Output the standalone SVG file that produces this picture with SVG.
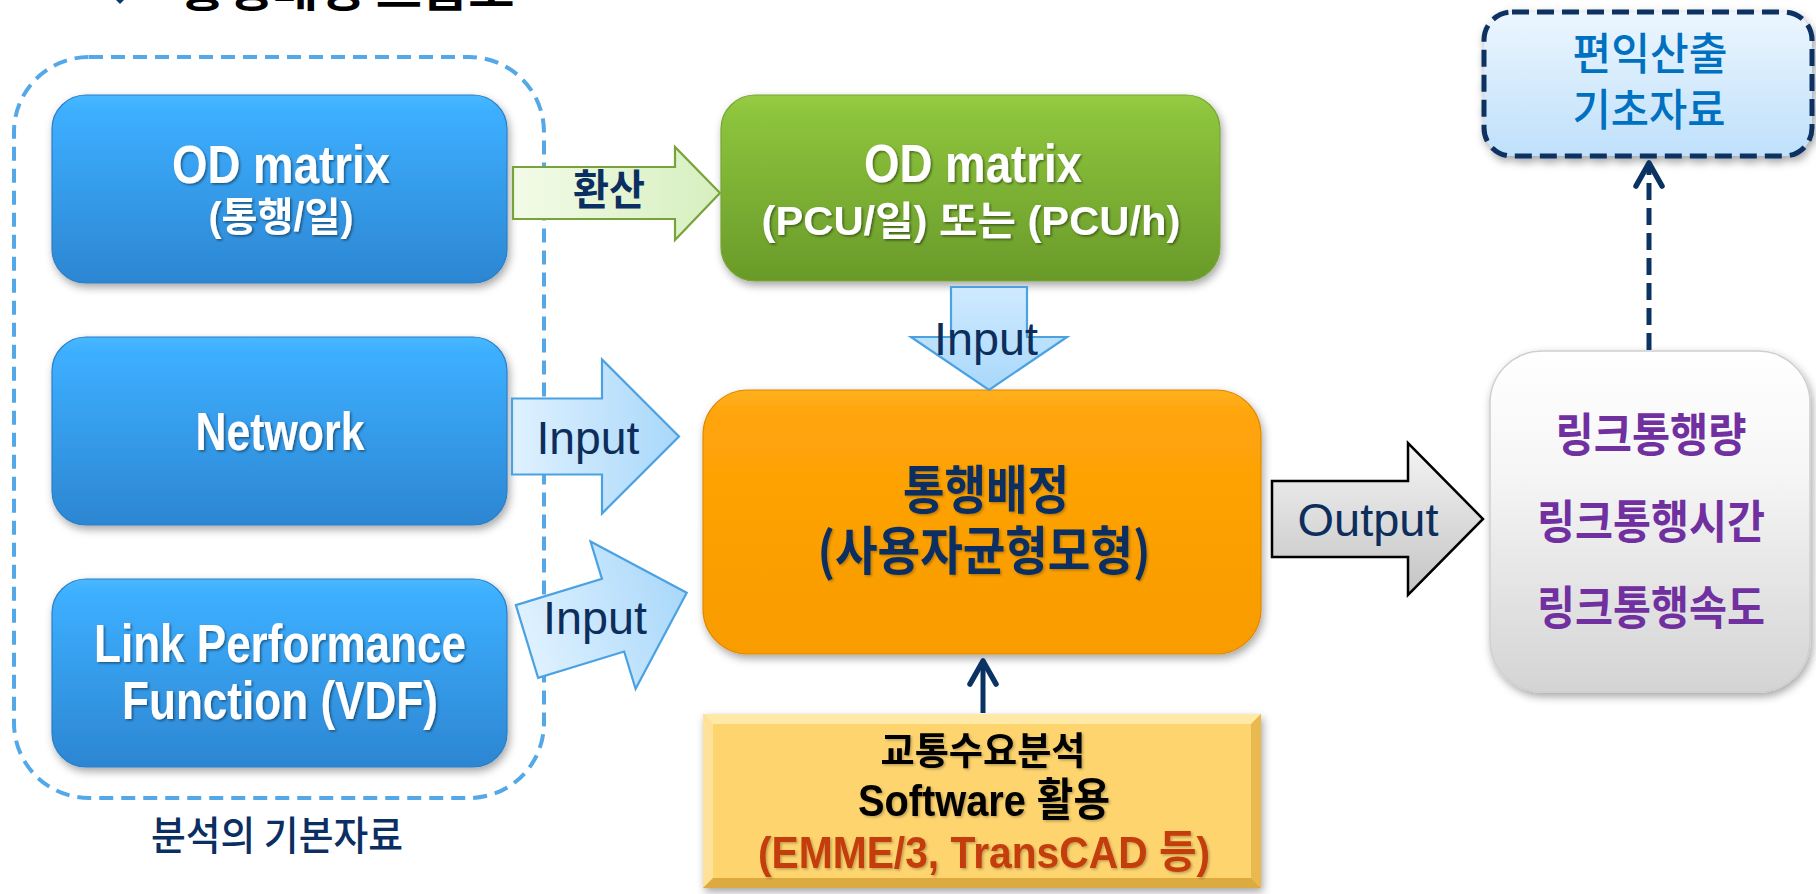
<svg xmlns="http://www.w3.org/2000/svg" width="1816" height="894" viewBox="0 0 1816 894">
<style>
text{font-family:"Liberation Sans Narrow","Liberation Sans","Noto Sans CJK KR",sans-serif;text-anchor:middle}
.w{fill:#fff;font-weight:bold;filter:url(#ts)}
.kb{font-family:"Noto Sans CJK KR","Liberation Sans",sans-serif;font-weight:bold}
.navy{fill:#0b2f60}
.inp{font-family:"Liberation Sans","Noto Sans CJK KR",sans-serif;font-size:47px;fill:#0d2e5c}
.blue{fill:url(#gBlue);stroke:#2b7fc6;stroke-width:1.2;filter:url(#ds)}
.inArrow{fill:url(#gIn);stroke:#4aa2e2;stroke-width:2.2;stroke-linejoin:miter}
.conn{fill:none;stroke:#0a3262;stroke-width:5}
.purple{fill:#7030a0;font-family:"Noto Sans CJK KR",sans-serif;font-weight:bold;font-size:46px}
</style>
<defs>
<linearGradient id="gBlue" x1="0" y1="0" x2="0" y2="1">
<stop offset="0" stop-color="#48b8ff"/><stop offset="0.08" stop-color="#3dafff"/><stop offset="1" stop-color="#2c86d2"/>
</linearGradient>
<linearGradient id="gGreen" x1="0" y1="0" x2="0" y2="1">
<stop offset="0" stop-color="#96cc44"/><stop offset="0.1" stop-color="#8dc43c"/><stop offset="1" stop-color="#699a2a"/>
</linearGradient>
<linearGradient id="gOrange" x1="0" y1="0" x2="0" y2="1">
<stop offset="0" stop-color="#ffb020"/><stop offset="0.1" stop-color="#ffa408"/><stop offset="1" stop-color="#f89c00"/>
</linearGradient>
<linearGradient id="gWhite" x1="0" y1="0" x2="0" y2="1">
<stop offset="0" stop-color="#ffffff"/><stop offset="0.35" stop-color="#f6f6f6"/><stop offset="1" stop-color="#d4d4d4"/>
</linearGradient>
<linearGradient id="gLight" x1="0" y1="0" x2="0" y2="1">
<stop offset="0" stop-color="#ecf6fe"/><stop offset="1" stop-color="#bfe0fb"/>
</linearGradient>
<linearGradient id="gIn" x1="0" y1="0" x2="1" y2="0">
<stop offset="0" stop-color="#dff1ff"/><stop offset="1" stop-color="#a9d8fa"/>
</linearGradient>
<linearGradient id="gInV" x1="0" y1="0" x2="0" y2="1">
<stop offset="0" stop-color="#cfeaff"/><stop offset="1" stop-color="#a9d8fa"/>
</linearGradient>
<linearGradient id="gGreenA" x1="0" y1="0" x2="1" y2="0">
<stop offset="0" stop-color="#f2fbe8"/><stop offset="1" stop-color="#d6efbf"/>
</linearGradient>
<linearGradient id="gGray" x1="0" y1="0" x2="0" y2="1">
<stop offset="0" stop-color="#f4f4f4"/><stop offset="1" stop-color="#c4c4c4"/>
</linearGradient>
<filter id="ds" x="-10%" y="-10%" width="125%" height="130%">
<feDropShadow dx="2" dy="4" stdDeviation="4" flood-color="#000" flood-opacity="0.35"/>
</filter>
<filter id="ts" x="-10%" y="-20%" width="120%" height="150%">
<feDropShadow dx="1.5" dy="1.5" stdDeviation="1" flood-color="#000" flood-opacity="0.45"/>
</filter>
<filter id="tsl" x="-10%" y="-20%" width="120%" height="150%">
<feDropShadow dx="1.5" dy="1.5" stdDeviation="1" flood-color="#000" flood-opacity="0.25"/>
</filter>
<marker id="chev" markerUnits="userSpaceOnUse" markerWidth="32" markerHeight="32" viewBox="0 0 32 32" refX="28" refY="16" orient="auto">
<path d="M5,3 L28,16 L5,29" fill="none" stroke="#0a3262" stroke-width="5.5" stroke-linecap="round" stroke-linejoin="round"/>
</marker>
</defs>

<rect width="1816" height="894" fill="#fff"/>

<g id="title">
<path d="M120,-8 L129,1 L120,10 L111,1 Z" fill="#0b3a70" transform="translate(0,-6)"/>
<text x="347" y="7" class="kb" style="font-size:44px;fill:#000" textLength="335" lengthAdjust="spacingAndGlyphs">통행배정 흐름도</text>
</g>

<g id="basic-data-group">
<rect x="14" y="57" width="530" height="741" rx="75" fill="none" stroke="#55a8e8" stroke-width="4" stroke-dasharray="14 8"/>
<text x="277" y="850" class="kb" style="font-size:40px;font-weight:500;fill:#0b2f63" textLength="252" lengthAdjust="spacingAndGlyphs">분석의 기본자료</text>
</g>

<g id="od-daily">
<rect x="52" y="95" width="455" height="188" rx="34" class="blue"/>
<text x="281" y="183" class="w" style="font-size:54px" textLength="218" lengthAdjust="spacingAndGlyphs">OD matrix</text>
<text x="281" y="231" class="w" style="font-size:40px" textLength="145" lengthAdjust="spacingAndGlyphs">(통행/일)</text>
</g>

<g id="network">
<rect x="52" y="337" width="455" height="188" rx="34" class="blue"/>
<text x="280" y="450" class="w" style="font-size:53px" textLength="169" lengthAdjust="spacingAndGlyphs">Network</text>
</g>

<g id="vdf">
<rect x="52" y="579" width="455" height="188" rx="34" class="blue"/>
<text x="280" y="662" class="w" style="font-size:53px" textLength="372" lengthAdjust="spacingAndGlyphs">Link  Performance</text>
<text x="280" y="719" class="w" style="font-size:53px" textLength="316" lengthAdjust="spacingAndGlyphs">Function (VDF)</text>
</g>

<g id="od-pcu">
<rect x="721" y="95" width="499" height="186" rx="34" fill="url(#gGreen)" stroke="#78a636" stroke-width="1.2" filter="url(#ds)"/>
<text x="973" y="182" class="w" style="font-size:54px" textLength="218" lengthAdjust="spacingAndGlyphs">OD matrix</text>
<text x="971" y="235" class="w" style="font-size:40px" textLength="419" lengthAdjust="spacingAndGlyphs">(PCU/일) 또는 (PCU/h)</text>
</g>

<g id="assignment">
<rect x="703" y="390" width="558" height="264" rx="45" fill="url(#gOrange)" stroke="#e08a00" stroke-width="1.2" filter="url(#ds)"/>
<text x="986" y="509" class="kb navy" style="font-size:52px;filter:url(#tsl)" textLength="166" lengthAdjust="spacingAndGlyphs">통행배정</text>
<text x="984" y="570" class="kb navy" style="font-size:52px;filter:url(#tsl)" textLength="333" lengthAdjust="spacingAndGlyphs">(사용자균형모형)</text>
</g>

<g id="software">
<rect x="703" y="714" width="558" height="174" fill="#fdd46e" filter="url(#ds)"/>
<polygon points="703,714 1261,714 1251,724 713,724" fill="#ffe9a6"/>
<polygon points="703,714 713,724 713,878 703,888" fill="#ffe29a"/>
<polygon points="1261,714 1261,888 1251,878 1251,724" fill="#e9b94f"/>
<polygon points="703,888 1261,888 1251,878 713,878" fill="#ddaa40"/>
<text x="983" y="764" class="kb" style="font-size:38px;fill:#000;filter:url(#tsl)" textLength="205" lengthAdjust="spacingAndGlyphs">교통수요분석</text>
<text x="984" y="816" style="font-size:45px;font-weight:bold;fill:#000;filter:url(#tsl)" textLength="252" lengthAdjust="spacingAndGlyphs">Software  활용</text>
<text x="984" y="868" style="font-size:45px;font-weight:bold;fill:#c43c0a;filter:url(#tsl)" textLength="452" lengthAdjust="spacingAndGlyphs">(EMME/3,  TransCAD  등)</text>
</g>

<g id="results">
<rect x="1490" y="351" width="320" height="341" rx="52" fill="url(#gWhite)" stroke="#cfcfcf" stroke-width="1.5" filter="url(#ds)"/>
<text x="1651" y="451" class="purple" textLength="191" lengthAdjust="spacingAndGlyphs">링크통행량</text>
<text x="1651" y="538" class="purple" textLength="228" lengthAdjust="spacingAndGlyphs">링크통행시간</text>
<text x="1651" y="624" class="purple" textLength="228" lengthAdjust="spacingAndGlyphs">링크통행속도</text>
</g>

<g id="benefit">
<rect x="1484" y="12" width="328" height="144" rx="28" fill="url(#gLight)" stroke="#0a3262" stroke-width="5" stroke-dasharray="17 8" filter="url(#ds)"/>
<text x="1650" y="70" class="kb" style="font-size:44px;font-weight:500;fill:#0070c0" textLength="155" lengthAdjust="spacingAndGlyphs">편익산출</text>
<text x="1649" y="126" class="kb" style="font-size:44px;font-weight:500;fill:#0070c0" textLength="153" lengthAdjust="spacingAndGlyphs">기초자료</text>
</g>

<g id="connectors">
<g id="convert-arrow">
<path d="M513,167 L675,167 L675,147 L720,193 L675,240 L675,219 L513,219 Z" fill="url(#gGreenA)" stroke="#77a33a" stroke-width="2.2"/>
<text x="609" y="205" class="kb navy" style="font-size:42px" textLength="72" lengthAdjust="spacingAndGlyphs">환산</text>
</g>
<g id="input-down">
<path d="M951,287 L1027,287 L1027,337 L1067,337 L989,390 L911,337 L951,337 Z" fill="url(#gInV)" stroke="#4aa2e2" stroke-width="2.2"/>
<text x="986" y="355" class="inp" textLength="104" lengthAdjust="spacingAndGlyphs">Input</text>
</g>
<g id="input-network">
<path d="M0,-38 L90,-38 L90,-77 L167,0 L90,77 L90,38 L0,38 Z" class="inArrow" transform="translate(512,436.5)"/>
<text x="588" y="454" class="inp" textLength="103" lengthAdjust="spacingAndGlyphs">Input</text>
</g>
<g id="input-vdf">
<path d="M0,-38 L90,-38 L90,-77 L167,0 L90,77 L90,38 L0,38 Z" class="inArrow" transform="translate(527,641.5) rotate(-17)"/>
<text x="595" y="634" class="inp" textLength="104" lengthAdjust="spacingAndGlyphs">Input</text>
</g>
<g id="output-arrow">
<path d="M1272,481 L1408,481 L1408,443 L1483,519 L1408,595 L1408,557 L1272,557 Z" fill="url(#gGray)" stroke="#000" stroke-width="2.5"/>
<text x="1368" y="536" class="inp" textLength="141" lengthAdjust="spacingAndGlyphs">Output</text>
</g>
<line x1="983" y1="713" x2="983" y2="661" class="conn" marker-end="url(#chev)"/>
<line x1="1649" y1="350" x2="1649" y2="163" class="conn" stroke-dasharray="17 8" marker-end="url(#chev)"/>
</g>
</svg>
